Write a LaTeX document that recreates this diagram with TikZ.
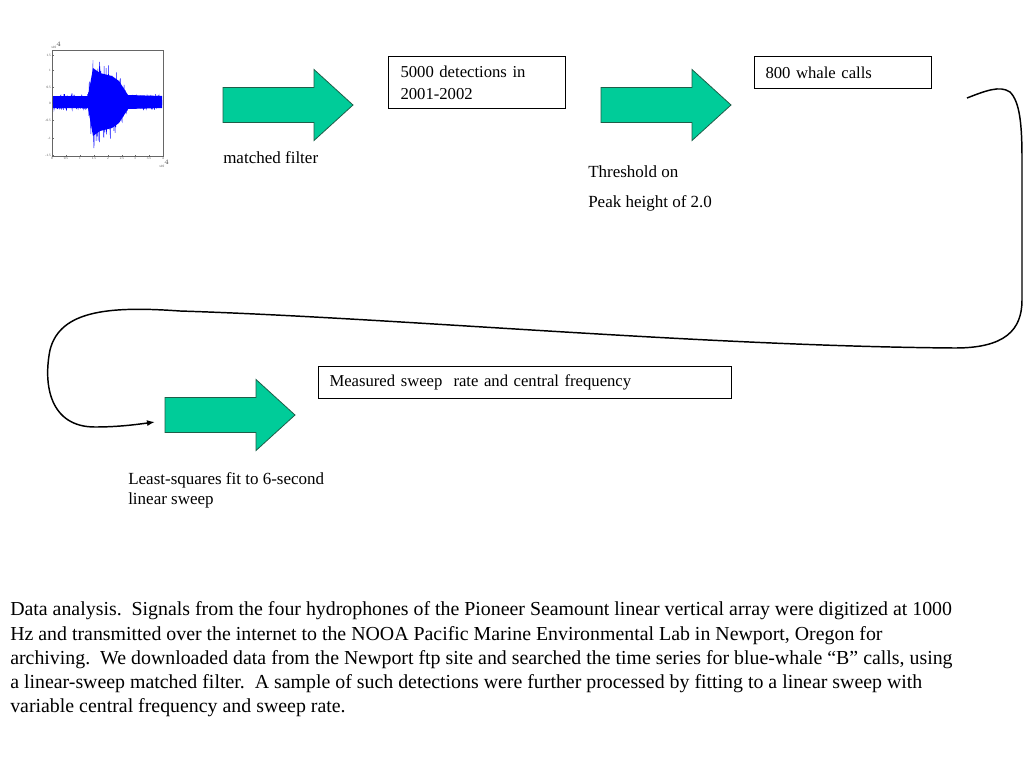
\documentclass[tikz,border=0pt]{standalone}
\usepackage{fontspec}
\setmainfont{Liberation Serif}
\usetikzlibrary{arrows.meta}
\definecolor{arrowgreen}{HTML}{00CC99}
\definecolor{arrowedge}{HTML}{1E5E48}
\definecolor{traceblue}{HTML}{0000FF}

\tikzset{
  fatarrow/.style={fill=arrowgreen,draw=arrowedge,line width=0.6pt},
  steptext/.style={anchor=base west,inner sep=0pt,font=\fontsize{12.75}{15}\selectfont},
  stagebox/.style={draw,line width=0.75pt,anchor=north west,inner ysep=0pt,
    align=left,font=\fontsize{12.5}{16.5}\selectfont},
  ticklabel/.style={inner sep=0pt,font=\fontsize{2.5}{3}\selectfont,text=black!70},
}

\begin{document}
\begin{tikzpicture}[x=0.75pt,y=-0.75pt]
  \path[fill=white,use as bounding box] (0,0) rectangle (1024,768);

  % waveform thumbnail
  \draw[line width=0.3pt,black!60] (52,50) rectangle (163,156);
  \foreach \tx/\tl in {52/0,66/0.5,80/1,94/1.5,108/2,122/2.5,135/3,149/3.5,163/4} {
    \draw[line width=0.3pt,black!60] (\tx,156) -- (\tx,154.5);
    \node[ticklabel,below] at (\tx,157) {\tl};
  }
  \foreach \ty/\tl in {55/1.5,70/1,87/0.5,103/0,120/-0.5,138/-1,155/-1.5} {
    \draw[line width=0.3pt,black!60] (52,\ty) -- (53.5,\ty);
    \node[ticklabel,left] at (51,\ty) {\tl};
  }
  \node[ticklabel,anchor=south west] at (51,49) {x10$^4$};
  \node[ticklabel,anchor=north west] at (159,160) {x10$^4$};
  \fill[traceblue] (53,96) -- (88,96) -- (93,68) -- (100,73) -- (112,76) -- (119,81)
    -- (128,95) -- (162,96) -- (162,108) -- (128,109) -- (119,123) -- (112,128)
    -- (100,131) -- (93,136) -- (88,108) -- (53,108) -- cycle;
  \pgfmathsetseed{7}
  \foreach \xa/\xb/\aa/\ab in {53/88/8/8,88/93/12/48,93/100/48/40,100/112/40/36,
                               112/119/36/30,119/128/30/9,128/162/8/8} {
    \pgfmathtruncatemacro{\ns}{3*(\xb-\xa)+2}
    \draw[traceblue,line width=0.35pt] plot[domain=\xa:\xb,samples=\ns]
      (\x,{102+rand*(\aa+(\ab-\aa)*(\x-\xa)/(\xb-\xa))});
  }

  % block arrows
  \foreach \ax/\ay [count=\i] in {223/105,601/105,165/415} {
    \draw[fatarrow] (\ax,\ay-17.5) -- (\ax+91,\ay-17.5) -- (\ax+91,\ay-35.5)
      -- (\ax+130,\ay) -- (\ax+91,\ay+35.5) -- (\ax+91,\ay+17.5)
      -- (\ax,\ay+17.5) -- cycle;
  }

  % stage boxes
  \node[stagebox,minimum width=132.75pt,minimum height=39pt,text width=114.75pt,
    inner xsep=9pt] (detect) at (388,56) {5000 detections in\\2001-2002};
  \node[stagebox,minimum width=132.75pt,minimum height=24pt,text width=116.25pt,
    inner xsep=8.25pt] (calls) at (754,56) {800 whale calls};
  \node[stagebox,minimum width=309.75pt,minimum height=24pt,text width=293.25pt,
    inner xsep=8.25pt] (measured) at (318,366) {Measured sweep\ \ rate and central frequency};

  % labels under arrows
  \node[steptext] (filterlbl) at (223,163) {matched filter};
  \node[steptext] (threshlbl) at (588,177) {Threshold on};
  \node[steptext] (peaklbl) at (588,207) {Peak height of 2.0};
  \node[steptext] (fitlbl) at (128,484) {Least-squares fit to 6-second};
  \node[steptext] (sweeplbl) at (128,504) {linear sweep};

  % loop back connector
  \coordinate (loopstart) at (967,98);
  \coordinate (loopend) at (155,422);
  \draw[line width=1.1pt,-{Latex[length=6pt,width=4.5pt]}] (loopstart)
    .. controls (985,91) and (1000,85) .. (1010,92)
    .. controls (1020,102) and (1022,125) .. (1022,160) -- (1022,300)
    .. controls (1022,330) and (1005,348) .. (955,348)
    .. controls (700,346) and (400,318) .. (180,311)
    .. controls (110,306) and (60,310) .. (50,350)
    .. controls (43,385) and (50,427) .. (95,427)
    .. controls (120,427) and (140,424) .. (loopend);

  % caption
  \node[anchor=north west,inner sep=0pt,align=left,font=\fontsize{14.9}{18.2}\selectfont]
    (caption) at (10,601.5) {Data analysis.\ \ Signals from the four hydrophones of the Pioneer Seamount linear vertical array were digitized at 1000\\
    Hz and transmitted over the internet to the NOOA Pacific Marine Environmental Lab in Newport, Oregon for\\
    archiving.\ \ We downloaded data from the Newport ftp site and searched the time series for blue-whale “B” calls, using\\
    a linear-sweep matched filter.\ \ A sample of such detections were further processed by fitting to a linear sweep with\\
    variable central frequency and sweep rate.};
\end{tikzpicture}
\end{document}
